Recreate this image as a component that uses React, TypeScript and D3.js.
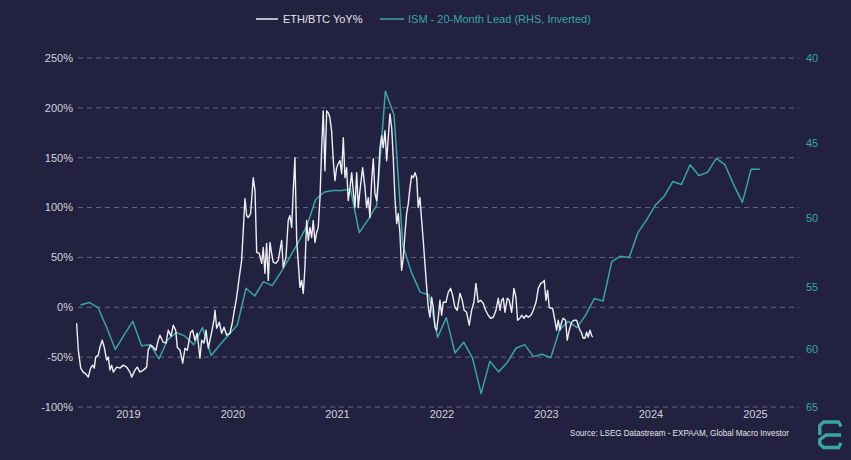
import React from "react";
import * as d3 from "d3";

// ---------- DATA ----------
const ethYears = [2018.504,2018.520,2018.543,2018.567,2018.593,2018.615,2018.638,2018.657,2018.673,2018.686,2018.711,2018.727,2018.749,2018.768,2018.791,2018.807,2018.823,2018.839,2018.855,2018.887,2018.919,2018.950,2018.983,2019.014,2019.031,2019.062,2019.084,2019.110,2019.142,2019.174,2019.189,2019.212,2019.237,2019.263,2019.285,2019.301,2019.333,2019.359,2019.381,2019.407,2019.429,2019.452,2019.467,2019.493,2019.519,2019.541,2019.563,2019.595,2019.614,2019.636,2019.658,2019.684,2019.700,2019.722,2019.742,2019.764,2019.796,2019.818,2019.828,2019.844,2019.869,2019.892,2019.914,2019.940,2019.971,2019.993,2020.010,
2020.035,2020.060,2020.083,2020.115,2020.131,2020.146,2020.169,2020.194,2020.211,2020.227,2020.252,2020.275,2020.290,2020.306,2020.322,2020.338,2020.354,2020.370,2020.386,2020.411,2020.433,2020.466,2020.481,2020.507,2020.529,2020.545,2020.562,2020.577,2020.593,2020.610,2020.625,2020.641,2020.657,2020.673,2020.689,2020.705,2020.721,2020.737,2020.753,2020.768,2020.785,2020.801,2020.816,2020.833,2020.849,2020.864,2020.880,2020.897,2020.912,2020.928,2020.944,2020.960,2020.976,2020.992,2021.008,2021.024,2021.040,2021.056,2021.072,2021.088,2021.103,2021.120,2021.136,2021.151,2021.167,2021.184,2021.199,2021.215,2021.241,2021.263,2021.279,2021.295,2021.311,2021.327,2021.343,2021.359,2021.375,2021.390,2021.407,2021.423,2021.438,2021.455,2021.471,2021.486,2021.502,2021.519,2021.534,2021.550,2021.567,2021.582,2021.598,2021.614,2021.630,2021.646,2021.662,2021.678,2021.694,2021.710,2021.725,2021.742,2021.758,2021.773,2021.789,2021.806,2021.821,2021.837,2021.854,2021.869,
2021.885,2021.901,2021.917,2021.933,2021.949,2021.965,2021.981,2021.997,2022.012,2022.038,2022.060,2022.083,2022.102,2022.124,2022.146,2022.172,2022.194,2022.213,2022.236,2022.261,2022.284,2022.306,2022.325,2022.347,2022.370,2022.395,2022.418,2022.443,2022.466,2022.491,2022.517,2022.539,2022.555,2022.571,2022.587,2022.603,2022.625,2022.644,2022.667,2022.689,2022.708,2022.724,2022.746,2022.763,2022.785,2022.804,2022.826,2022.852,2022.874,2022.900,2022.922,2022.945,2022.964,2022.979,2022.995,2023.011,2023.027,2023.043,2023.059,2023.081,2023.097,2023.113,2023.129,2023.145,2023.160,2023.183,2023.199,2023.218,2023.241,2023.263,2023.289,2023.304,2023.321,2023.337,2023.352,2023.368,2023.385,2023.400,2023.416,2023.432,2023.442];

const ethValues = [-16,-43,-61,-65,-67,-70,-61,-58,-61,-50,-48,-40,-33,-40,-53,-50,-63,-58,-65,-60,-61,-58,-60,-65,-70,-63,-60,-65,-63,-60,-43,-38,-40,-43,-33,-28,-35,-36,-23,-29,-18,-23,-40,-43,-56,-41,-43,-25,-23,-33,-26,-51,-33,-36,-23,-41,-25,-13,-3,-21,-15,-26,-20,-28,-26,-16,-5,
10,30,47,109,92,90,94,130,117,55,54,44,60,34,64,27,65,54,45,44,47,67,40,50,87,92,80,117,150,67,45,20,27,14,40,87,67,80,70,87,65,75,80,110,160,197,137,197,195,190,177,147,127,140,144,147,134,170,130,140,107,120,135,117,100,135,100,117,140,120,100,110,90,127,149,114,107,127,160,172,160,177,147,170,194,180,150,110,84,94,74,37,50,74,94,104,120,132,130,135,130,100,110,87,67,44,20,0,
-10,10,0,-20,-23,-10,7,-8,5,5,15,19,12,0,-3,14,7,-3,-5,-18,-3,5,24,5,7,4,-3,-8,-11,-10,-3,9,-3,7,9,-5,9,7,-5,19,10,-13,-11,-8,-11,-8,-10,-8,-3,5,19,24,25,27,7,17,0,-1,-1,-13,-23,-13,-23,-15,-11,-13,-33,-23,-15,-13,-13,-18,-23,-26,-31,-31,-25,-30,-23,-28,-30];

const ismMonths = [
  "2018-07","2018-08","2018-09","2018-10","2018-11","2018-12",
  "2019-01","2019-02","2019-03","2019-04","2019-05","2019-06","2019-07","2019-08","2019-09","2019-10","2019-11","2019-12",
  "2020-01","2020-02","2020-03","2020-04","2020-05","2020-06","2020-07","2020-08","2020-09","2020-10","2020-11","2020-12",
  "2021-01","2021-02","2021-03","2021-04","2021-05","2021-06","2021-07","2021-08","2021-09","2021-10","2021-11","2021-12",
  "2022-01","2022-02","2022-03","2022-04","2022-05","2022-06","2022-07","2022-08","2022-09","2022-10","2022-11","2022-12",
  "2023-01","2023-02","2023-03","2023-04","2023-05","2023-06","2023-07","2023-08","2023-09","2023-10","2023-11","2023-12",
  "2024-01","2024-02","2024-03","2024-04","2024-05","2024-06","2024-07","2024-08","2024-09","2024-10","2024-11","2024-12",
  "2025-01"];

const ismValues = [
  56.4,56.2,56.6,58.2,60.0,58.8,
  57.7,59.7,59.6,60.8,59.2,58.6,58.9,59.6,58.2,60.5,59.6,58.8,
  58.0,55.1,55.7,54.6,54.9,53.9,52.8,51.7,50.5,48.7,48.2,48.1,
  48.1,48.0,51.0,50.1,49.1,41.9,43.3,51.9,53.9,55.4,55.6,59.0,
  57.4,60.3,59.4,60.7,63.8,61.0,61.9,61.1,59.9,59.6,60.6,60.4,
  60.7,58.4,57.7,58.2,57.2,55.9,56.1,53.1,52.7,52.8,51.0,50.1,
  49.1,48.5,47.5,47.7,46.4,47.1,46.9,46.0,46.4,47.7,48.9,46.7,
  46.7];

const yearTicks = [2019, 2020, 2021, 2022, 2023, 2024, 2025];
const leftTicks = [-100, -50, 0, 50, 100, 150, 200, 250];
const rightTicks = [40, 45, 50, 55, 60, 65];

const seriesNames = ["ETH/BTC YoY%", "ISM - 20-Month Lead (RHS, Inverted)"];
const sourceText = "Source: LSEG Datastream - EXPAAM, Global Macro Investor";

// ---------- STYLE ----------
const W = 851, H = 460;
const BG = "#222140";
const TEAL = "#38a6a7";
const WHITE = "#eeeef4";
const GRID = "#67668a";
const LABEL = "#d2d2dc";
const FONT = "'Liberation Sans', Arial, Helvetica, sans-serif";

export default function App() {
  const plotLeft = 78, plotRight = 799, plotTop = 58, plotBottom = 407;
  const x = d3.scaleLinear().domain([2018.517, 2025.417]).range([plotLeft, plotRight]);
  const yL = d3.scaleLinear().domain([-100, 250]).range([plotBottom, plotTop]);
  const yR = d3.scaleLog().domain([40, 65]).range([plotTop, plotBottom]);

  const ethData = ethYears.map((t, i) => [t, ethValues[i]] as [number, number]);
  const ismData = ismMonths.map((m, i) => {
    const [yy, mm] = m.split("-").map(Number);
    return [yy + (mm - 0.5) / 12, ismValues[i]] as [number, number];
  });

  const ethLine = d3.line<[number, number]>().x(d => x(d[0])).y(d => yL(d[1]));
  const ismLine = d3.line<[number, number]>().x(d => x(d[0])).y(d => yR(d[1]));

  return (
    <svg width={W} height={H} style={{ position: "absolute", left: 0, top: 0, display: "block" }}
      fontFamily={FONT}>
      <rect x={0} y={0} width={W} height={H} fill={BG} />

      {/* gridlines */}
      {leftTicks.map(t => (
        <line key={"g" + t} x1={plotLeft} x2={plotRight} y1={yL(t)} y2={yL(t)}
          stroke={GRID} strokeWidth={1} strokeDasharray="5,4" />
      ))}

      {/* left axis labels */}
      {leftTicks.map(t => (
        <text key={"l" + t} x={73} y={yL(t)} dy="0.35em" textAnchor="end" fontSize={11} fill={LABEL}>
          {t + "%"}
        </text>
      ))}

      {/* right axis labels */}
      {rightTicks.map(t => (
        <text key={"r" + t} x={806} y={yR(t)} dy="0.35em" textAnchor="start" fontSize={11} fill={TEAL}>
          {t}
        </text>
      ))}

      {/* x labels */}
      {yearTicks.map(t => (
        <text key={"x" + t} x={x(t)} y={418} textAnchor="middle" fontSize={11} fill={LABEL}>
          {t}
        </text>
      ))}

      {/* series */}
      <path d={ismLine(ismData) || ""} fill="none" stroke={TEAL} strokeWidth={1.5} strokeLinejoin="round" />
      <path d={ethLine(ethData) || ""} fill="none" stroke={WHITE} strokeWidth={1.4} strokeLinejoin="round" />

      {/* legend */}
      <line x1={256} x2={278} y1={19} y2={19} stroke={WHITE} strokeWidth={1.5} />
      <text x={283} y={19} dy="0.35em" fontSize={11} fill="#e4e4ec">{seriesNames[0]}</text>
      <line x1={380} x2={404} y1={19} y2={19} stroke={TEAL} strokeWidth={1.5} />
      <text x={408} y={19} dy="0.35em" fontSize={11} fill={TEAL}>{seriesNames[1]}</text>

      {/* source */}
      <text x={570} y={436} textAnchor="start" fontSize={8.8} fill="#e4e4ec"
        textLength={219} lengthAdjust="spacingAndGlyphs">{sourceText}</text>

      {/* logo */}
      <g transform="translate(818,420)" fill="none" stroke={TEAL} strokeWidth={3.4}
        strokeLinejoin="miter" strokeLinecap="butt">
        <path d="M23,6.5 L20.5,2 H5.5 L1.8,5.5 V15" />
        <path d="M23,15 H8 L1.8,19.5 V24 L5.5,27.5 H20.5 L23,23" />
      </g>
    </svg>
  );
}
